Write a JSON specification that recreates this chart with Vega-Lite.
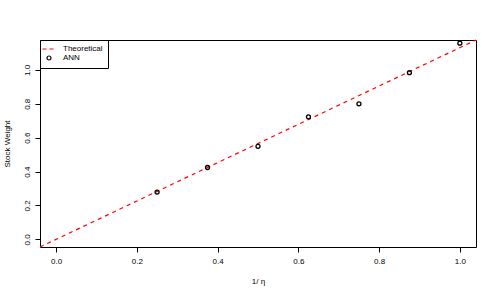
{
  "$schema": "https://vega.github.io/schema/vega-lite/v6.json",
  "width": 436,
  "height": 207,
  "autosize": {"type": "none"},
  "padding": {"left": 40, "top": 40, "right": 22, "bottom": 52},
  "background": "white",
  "config": {
    "view": {"stroke": "black", "strokeWidth": 1},
    "font": "Liberation Sans",
    "axis": {
      "grid": false,
      "domain": false,
      "tickColor": "black",
      "tickSize": 5,
      "labelFont": "Liberation Sans",
      "labelFontSize": 8,
      "labelColor": "black",
      "titleFont": "Liberation Sans",
      "titleFontSize": 8,
      "titleFontWeight": "normal",
      "titleColor": "black"
    }
  },
  "data": {
    "values": [
      {"series": "Theoretical", "x": -0.04, "y": -0.0453},
      {"series": "Theoretical", "x": 1.04, "y": 1.1767},
      {"series": "ANN", "x": 0.25, "y": 0.279},
      {"series": "ANN", "x": 0.375, "y": 0.424},
      {"series": "ANN", "x": 0.5, "y": 0.549},
      {"series": "ANN", "x": 0.625, "y": 0.723},
      {"series": "ANN", "x": 0.75, "y": 0.8},
      {"series": "ANN", "x": 0.875, "y": 0.984},
      {"series": "ANN", "x": 1.0, "y": 1.158}
    ]
  },
  "encoding": {
    "x": {
      "field": "x",
      "type": "quantitative",
      "scale": {"domain": [-0.04, 1.04], "nice": false, "zero": false},
      "axis": {
        "title": "1/ η",
        "values": [0, 0.2, 0.4, 0.6, 0.8, 1.0],
        "format": ".1f",
        "labelPadding": 5,
        "titlePadding": 12
      }
    },
    "y": {
      "field": "y",
      "type": "quantitative",
      "scale": {"domain": [-0.0453, 1.1767], "nice": false, "zero": false},
      "axis": {
        "title": "Stock Weight",
        "values": [0, 0.2, 0.4, 0.6, 0.8, 1.0],
        "format": ".1f",
        "labelAngle": -90,
        "labelAlign": "center",
        "labelBaseline": "bottom",
        "labelPadding": 4,
        "titlePadding": 12
      }
    }
  },
  "layer": [
    {
      "transform": [{"filter": "datum.series === 'Theoretical'"}],
      "mark": {"type": "line", "strokeDash": [4, 4], "strokeWidth": 1.2},
      "encoding": {
        "color": {
          "field": "series",
          "type": "nominal",
          "scale": {"domain": ["Theoretical", "ANN"], "range": ["red", "black"]},
          "legend": {
            "title": null,
            "orient": "none",
            "legendX": 0,
            "legendY": 0,
            "padding": 5,
            "strokeColor": "black",
            "fillColor": "white",
            "symbolSize": 100,
            "labelOffset": 10,
            "rowPadding": 0,
            "labelFontSize": 8,
            "labelFont": "Liberation Sans",
            "labelColor": "black",
            "labelBaseline": "middle",
            "cornerRadius": 0,
            "encode": {
              "symbols": {
                "update": {
                  "shape": {"signal": "datum.value === 'Theoretical' ? 'stroke' : 'circle'"},
                  "size": {"signal": "datum.value === 'Theoretical' ? 169 : 16"},
                  "strokeDash": {"signal": "datum.value === 'Theoretical' ? [4, 3] : []"},
                  "fill": {"value": "transparent"},
                  "strokeWidth": {"value": 1.2},
                  "opacity": {"value": 1}
                }
              }
            }
          }
        }
      }
    },
    {
      "transform": [{"filter": "datum.series === 'ANN'"}],
      "mark": {"type": "point", "filled": false, "shape": "circle", "size": 16, "strokeWidth": 1.3, "opacity": 1},
      "encoding": {
        "color": {"field": "series", "type": "nominal"}
      }
    }
  ]
}
